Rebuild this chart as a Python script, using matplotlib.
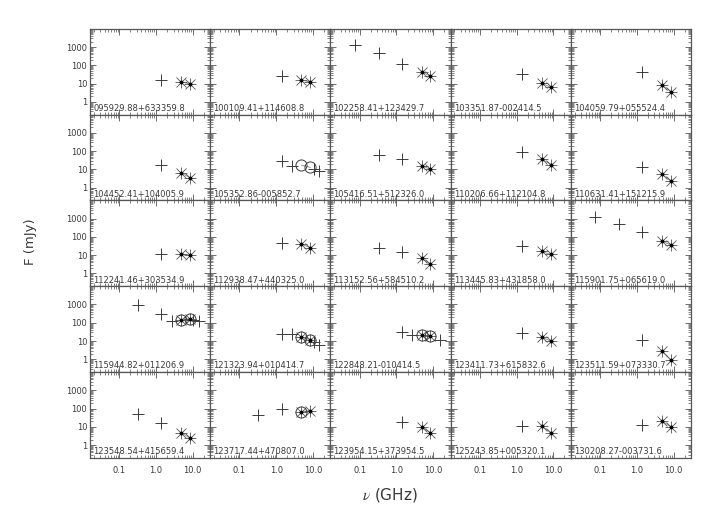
import numpy as np
import matplotlib.pyplot as plt
from matplotlib.ticker import LogLocator, NullFormatter

plt.rcParams['mathtext.fontset'] = 'stix'

# source names, row by row
names = [
    "095929.88+633359.8", "100109.41+114608.8", "102258.41+123429.7", "103351.87-002414.5", "104059.79+055524.4",
    "104452.41+104005.9", "105352.86-005852.7", "105416.51+512326.0", "110206.66+112104.8", "110631.41+151215.9",
    "112241.46+303534.9", "112938.47+440325.0", "113152.56+584510.2", "113445.83+431858.0", "115901.75+065619.0",
    "115944.82+011206.9", "121323.94+010414.7", "122848.21-010414.5", "123411.73+615832.6", "123511.59+073330.7",
    "123548.54+415659.4", "123717.44+470807.0", "123954.15+373954.5", "125243.85+005320.1", "130208.27-003731.6",
]

# '+' points (GHz, mJy)
plus_nu = [
    [1.4], [1.4], [0.074, 0.325, 1.4], [1.4], [1.4],
    [1.4], [1.4, 2.7, 10.5, 15], [0.325, 1.4], [1.4], [1.4],
    [1.4], [1.4], [0.325, 1.4], [1.4], [0.074, 0.325, 1.4],
    [0.325, 1.4, 2.7, 10.5, 15], [1.4, 2.7, 10.5, 15], [1.4, 2.7, 15], [1.4], [1.4],
    [0.325, 1.4], [0.325, 1.4], [1.4], [1.4], [1.4],
]
plus_flux = [
    [15], [25], [1340, 470, 118], [33], [46],
    [18.5], [28, 15, 11, 8.7], [60, 35], [87], [13],
    [11], [49], [26, 15], [32], [1290, 535, 186],
    [915, 285, 127, 140, 127], [23, 23, 9, 6], [32, 21, 11], [26], [11],
    [49, 16], [45, 91], [19], [11], [12.7],
]

# asterisks at 4.85 and 8.4 GHz
star_nu = [4.85, 8.4]
star_flux = [
    [12.7, 9.5], [16, 12], [46, 25], [10.8, 6.2], [8, 3.7],
    [6.5, 3.5], None, [16, 10], [38, 18.5], [5.3, 2.3],
    [12, 10], [40, 26], [6.8, 3.2], [16, 11], [60, 36],
    [138, 170], [16, 12], [21, 19], [16, 10], [2.8, 0.9],
    [4.8, 2.4], [68, 77], [10, 4.8], [11, 4.8], [21, 10],
]

# open circles
circ_nu = [
    [], [], [], [], [],
    [], [4.85, 8.4], [], [], [],
    [], [], [], [], [],
    [4.85, 8.4], [4.85, 8.4], [4.85, 8.4], [], [],
    [], [4.85], [], [], [],
]
circ_flux = [
    [], [], [], [], [],
    [], [17, 13], [], [], [],
    [], [], [], [], [],
    [138, 170], [16, 12], [21, 19], [], [],
    [], [68], [], [], [],
]

ink = '#3a3a3a'

fig, axes = plt.subplots(5, 5, figsize=(7.2, 5.15), dpi=100, sharex=True, sharey=True)
fig.subplots_adjust(left=0.125, right=0.96, top=0.944, bottom=0.111, wspace=0, hspace=0)

for i, ax in enumerate(axes.flat):
    ax.set_xscale('log')
    ax.set_yscale('log')

    ax.plot(plus_nu[i], plus_flux[i], ls='none', marker='+', ms=9, mew=0.7, color=ink)

    if star_flux[i] is not None:
        ax.plot(star_nu, star_flux[i], color='#888888', lw=0.6)
        ax.plot(star_nu, star_flux[i], ls='none', marker='+', ms=9, mew=0.6, color='#555555')
        ax.plot(star_nu, star_flux[i], ls='none', marker='x', ms=6.5, mew=0.6, color='#555555')
        ax.plot(star_nu, star_flux[i], ls='none', marker='o', ms=1.8, color='black')

    if circ_nu[i]:
        if star_flux[i] is None:
            ax.plot(circ_nu[i], circ_flux[i], color='#888888', lw=0.6)
        ax.plot(circ_nu[i], circ_flux[i], ls='none', marker='o', ms=8, mfc='none', mew=0.7, color=ink)

    ax.text(0.025, 0.02, names[i], transform=ax.transAxes, fontsize=6, color=ink,
            ha='left', va='bottom')

    for s in ax.spines.values():
        s.set_color('#555555')
        s.set_linewidth(0.9)
    ax.tick_params(which='both', direction='in', top=True, right=True, color='#555555',
                   labelcolor=ink, labelsize=6)
    ax.tick_params(which='major', length=4, width=0.6)
    ax.tick_params(which='minor', length=2, width=0.5)
    ax.tick_params(axis='x', which='major', pad=6)
    ax.tick_params(axis='y', which='major', pad=2)

ax0 = axes[0, 0]
ax0.set_xlim(0.016, 30)
ax0.set_ylim(0.2, 1e4)
ax0.set_xticks([0.1, 1, 10])
ax0.set_xticklabels(['0.1', '1.0', '10.0'])
ax0.set_yticks([1, 10, 100, 1000])
ax0.set_yticklabels(['1', '10', '100', '1000'])
ax0.xaxis.set_minor_locator(LogLocator(base=10, subs=np.arange(2, 10)))
ax0.yaxis.set_minor_locator(LogLocator(base=10, subs=np.arange(2, 10)))
ax0.xaxis.set_minor_formatter(NullFormatter())
ax0.yaxis.set_minor_formatter(NullFormatter())

fig.text(0.043, 0.53, 'F (mJy)', rotation=90, fontsize=9.5, color=ink, ha='center', va='center')
fig.text(0.542, 0.039, r'$\nu$ (GHz)', fontsize=11, color=ink, ha='center', va='center')

fig.savefig('out.png', dpi=100)
